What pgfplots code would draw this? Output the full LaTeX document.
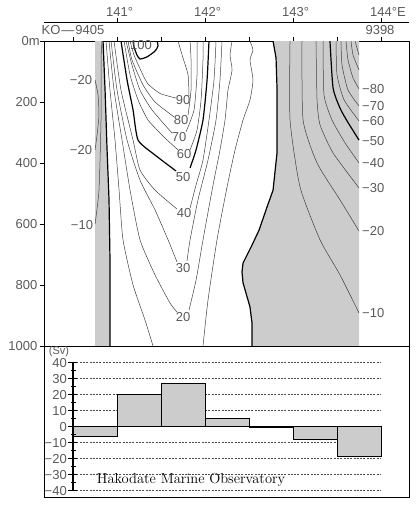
\documentclass[border=0pt]{standalone}
\usepackage{fontspec}
\usepackage{pgfplots}
\pgfplotsset{compat=1.18}
\newfontfamily\lab{Liberation Sans}
\newcommand\lf{\lab\fontsize{13}{15}\selectfont}
\definecolor{txt}{gray}{0.35}
\definecolor{shade}{gray}{0.8}
\tikzset{
  cl/.style={black!75, line width=0.5pt, smooth, tension=0.35},
  ck/.style={black, line width=1.2pt, smooth, tension=0.35},
  zk/.style={black, line width=1.2pt},
  lb/.style={txt, font=\lf, inner sep=0pt}
}
\begin{document}
\begin{tikzpicture}[x=1pt,y=1pt]
\useasboundingbox (0,0) rectangle (416,-506);

% ---------- section panel ----------
\begin{axis}[at={(44pt,-346pt)}, anchor=south west, scale only axis,
  width=365pt, height=305pt,
  xmin=140.170, xmax=144.318, ymin=0, ymax=1000, y dir=reverse,
  axis line style={black, line width=1pt},
  xtick={140.5,141,141.5,142,142.5,143,143.5,144}, xticklabels={},
  ytick={0,200,400,600,800,1000}, yticklabels={},
  xtick pos=right, ytick pos=left, tick align=outside,
  major tick length=4.5pt, tick style={black, line width=0.8pt}]
% shaded (negative) areas
\addplot[fill=shade, draw=none] coordinates {(140.75,0)(140.841,0)(140.864,161)(140.886,351)(140.909,521)(140.920,718)(140.920,1000)(140.75,1000)};
\addplot[fill=shade, draw=none] coordinates {(142.773,0)(142.807,56)(142.818,154)(142.818,259)(142.818,367)(142.773,489)(142.705,544)(142.614,620)(142.534,669)(142.432,728)(142.420,757)(142.432,793)(142.511,872)(142.534,925)(142.534,1000)(143.75,1000)(143.75,0)};
% zero contours
\addplot[zk] coordinates {(140.841,0)(140.864,161)(140.886,351)(140.909,521)(140.920,718)(140.920,1000)};
\addplot[zk] coordinates {(142.773,0)(142.807,56)(142.818,154)(142.818,259)(142.818,367)(142.773,489)(142.705,544)(142.614,620)(142.534,669)(142.432,728)(142.420,757)(142.432,793)(142.511,872)(142.534,925)(142.534,1000)};
% left negative strip
\addplot[cl] coordinates {(140.750,600)(140.795,489)(140.818,259)(140.818,62)(140.830,0)};
\addplot[cl] coordinates {(140.750,128)(140.784,177)(140.795,243)(140.773,308)(140.750,357)};
% positive contours
\addplot[cl] coordinates {(140.875,0)(140.920,161)(140.977,325)(141.023,489)(141.068,652)(141.182,800)(141.318,915)(141.409,1000)};
\addplot[cl] coordinates {(141.977,1000)(142.034,849)(142.136,652)(142.250,479)(142.341,357)(142.432,259)(142.511,193)(142.545,128)(142.511,62)(142.545,30)(142.511,0)};
\addplot[cl] coordinates {(140.909,0)(140.966,161)(141.057,325)(141.148,489)(141.261,652)(141.432,767)(141.602,859)(141.682,889)};
\addplot[cl] coordinates {(141.818,882)(141.898,784)(141.977,652)(142.080,489)(142.170,357)(142.227,259)(142.261,161)(142.307,95)(142.284,46)(142.307,0)};
\addplot[cl] coordinates {(140.932,0)(141.000,161)(141.114,325)(141.261,456)(141.432,554)(141.580,652)(141.682,725)};
\addplot[cl] coordinates {(141.795,721)(141.830,652)(141.920,521)(142.034,390)(142.125,259)(142.170,128)(142.193,0)};
\addplot[cl] coordinates {(140.966,0)(141.045,161)(141.182,325)(141.261,423)(141.432,489)(141.682,551)};
\addplot[cl] coordinates {(141.830,548)(141.898,472)(141.977,390)(142.045,259)(142.102,128)(142.125,0)};
\addplot[ck] coordinates {(141.045,0)(141.114,128)(141.182,226)(141.239,325)(141.432,374)(141.670,426)};
\addplot[ck] coordinates {(141.830,416)(141.898,357)(141.977,259)(142.023,128)(142.045,0)};
\addplot[cl] coordinates {(141.080,0)(141.148,111)(141.239,193)(141.352,259)(141.545,318)(141.693,357)};
\addplot[cl] coordinates {(141.830,357)(141.909,292)(141.955,193)(141.977,62)(141.977,0)};
\addplot[cl] coordinates {(141.102,0)(141.170,79)(141.261,161)(141.398,226)(141.625,302)};
\addplot[cl] coordinates {(141.784,298)(141.875,226)(141.909,111)(141.909,0)};
\addplot[cl] coordinates {(141.125,0)(141.170,62)(141.295,144)(141.432,200)(141.648,249)};
\addplot[cl] coordinates {(141.807,243)(141.841,161)(141.841,62)(141.830,0)};
\addplot[cl] coordinates {(141.148,0)(141.193,46)(141.284,105)(141.352,141)(141.489,172)(141.670,187)};
\addplot[cl] coordinates {(141.818,180)(141.807,111)(141.750,56)(141.693,0)};
\addplot[ck] coordinates {(141.182,0)(141.193,20)(141.227,46)(141.261,59)(141.341,52)(141.432,33)(141.466,16)(141.455,0)};
% negative contours (east)
\addplot[cl] coordinates {(142.966,0)(142.966,259)(143.080,479)(143.307,652)(143.534,767)(143.750,892)};
\addplot[cl] coordinates {(143.102,0)(143.114,259)(143.273,400)(143.534,521)(143.750,623)};
\addplot[cl] coordinates {(143.261,0)(143.273,193)(143.307,275)(143.455,367)(143.750,482)};
\addplot[cl] coordinates {(143.341,0)(143.352,177)(143.443,259)(143.591,334)(143.750,400)};
\addplot[ck] coordinates {(143.420,0)(143.455,154)(143.534,220)(143.614,262)(143.750,325)};
\addplot[cl] coordinates {(143.489,0)(143.500,111)(143.580,193)(143.750,262)};
\addplot[cl] coordinates {(143.545,0)(143.557,79)(143.625,161)(143.750,213)};
\addplot[cl] coordinates {(143.602,0)(143.625,62)(143.682,121)(143.750,157)};
\addplot[cl] coordinates {(143.659,0)(143.682,46)(143.750,95)};
\addplot[cl] coordinates {(143.705,0)(143.727,23)(143.750,46)};
\end{axis}

% ---------- transport panel ----------
\foreach \v in {40,30,20,10,0,-10,-20,-30,-40}
  \draw[black!70, line width=0.5pt, dash pattern=on 2pt off 1.3pt] (73,{-426.7+1.6*\v}) -- (380,{-426.7+1.6*\v});
\begin{axis}[at={(44pt,-497pt)}, anchor=south west, scale only axis,
  width=365pt, height=151pt,
  xmin=140.170, xmax=144.318, ymin=-43.94, ymax=50.44,
  xtick=\empty, ytick=\empty,
  axis line style={black, line width=1pt}]
\addplot[ybar interval, fill=shade, draw=black, line width=0.9pt] coordinates {(140.5,-6) (141,20) (141.5,27) (142,5) (142.5,-0.4) (143,-8) (143.5,-18.5) (144,0)};
\end{axis}
\draw[black, line width=1.2pt] (73,-362.7) -- (73,-490.7);
\foreach \v in {40,30,20,10,0,-10,-20,-30,-40}
  \draw[black, line width=0.9pt] (68,{-426.7+1.6*\v}) -- (77,{-426.7+1.6*\v});
\foreach \v in {35,25,15,5,-5,-15,-25,-35}
  \draw[black, line width=0.9pt] (71,{-426.7+1.6*\v}) -- (76,{-426.7+1.6*\v});
\foreach \v/\t in {40/40,30/30,20/20,10/10,0/0,-10/−10,-20/−20,-30/−30,-40/−40}
  \node[lb, anchor=east] at (67,{-426.7+1.6*\v}) {\t};
\node[txt, inner sep=0pt, font=\lab\fontsize{11}{12}\selectfont] at (59,-351.5) {(Sv)};
\node[inner sep=0pt, font=\fontsize{14.5}{16}\selectfont] at (191,-480) {Hakodate Marine Observatory};

% ---------- top scales ----------
\draw[black, line width=0.9pt] (44,-22) -- (409,-22);
\foreach \x in {117,205,293,381} \draw[black, line width=0.9pt] (\x,-22) -- (\x,-17.5);
\node[lb] at (117,-12) {141\rlap{°}};
\node[lb] at (205,-12) {142\rlap{°}};
\node[lb] at (293,-12) {143\rlap{°}};
\node[lb] at (381,-12) {144\rlap{°E}};
\node[lb] at (73,-30) {KO\kern1pt—\kern1pt9405};
\node[lb] at (380,-30) {9398};

% depth labels
\node[lb, anchor=east] at (40,-41) {0m};
\node[lb, anchor=east] at (37.5,-102) {200};
\node[lb, anchor=east] at (37.5,-163) {400};
\node[lb, anchor=east] at (37.5,-224) {600};
\node[lb, anchor=east] at (37.5,-285) {800};
\node[lb, anchor=east] at (37.5,-346) {1000};

% contour labels
\node[lb] at (81,-80) {−20};
\node[lb] at (81,-150) {−20};
\node[lb] at (82,-225) {−10};
\node[lb] at (141,-45) {100};
\node[lb] at (183,-100) {90};
\node[lb] at (181,-120) {80};
\node[lb] at (179,-137) {70};
\node[lb] at (184,-154) {60};
\node[lb] at (183,-177) {50};
\node[lb] at (184,-213) {40};
\node[lb] at (183,-268) {30};
\node[lb] at (183,-317) {20};
\foreach \y/\t in {89/−80,106/−70,121/−60,141/−50,163/−40,188/−30,231/−20,313/−10}
  \node[lb, anchor=west] at (362,-\y) {\t};
\end{tikzpicture}
\end{document}
